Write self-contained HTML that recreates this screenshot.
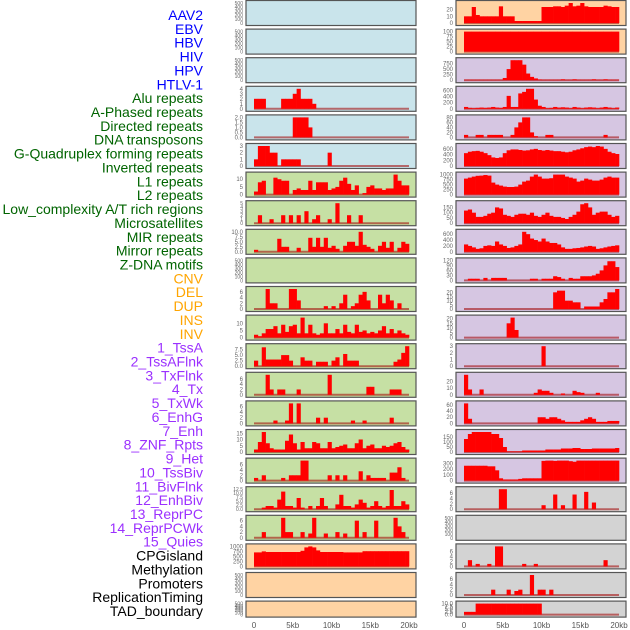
<!DOCTYPE html>
<html><head><meta charset="utf-8"><style>
html,body{margin:0;padding:0;background:#fff;width:630px;height:630px;overflow:hidden}
svg{display:block}
</style></head><body>
<svg id="chart" width="630" height="630" xmlns="http://www.w3.org/2000/svg"></svg>
<script>
const labels = ["AAV2","EBV","HBV","HIV","HPV","HTLV-1","Alu repeats","A-Phased repeats","Directed repeats","DNA transposons","G-Quadruplex forming repeats","Inverted repeats","L1 repeats","L2 repeats","Low_complexity A/T rich regions","Microsatellites","MIR repeats","Mirror repeats","Z-DNA motifs","CNV","DEL","DUP","INS","INV","1_TssA","2_TssAFlnk","3_TxFlnk","4_Tx","5_TxWk","6_EnhG","7_Enh","8_ZNF_Rpts","9_Het","10_TssBiv","11_BivFlnk","12_EnhBiv","13_ReprPC","14_ReprPCWk","15_Quies","CPGisland","Methylation","Promoters","ReplicationTiming","TAD_boundary"];
const labelColors = ["#0000ff","#0000ff","#0000ff","#0000ff","#0000ff","#0000ff","#006400","#006400","#006400","#006400","#006400","#006400","#006400","#006400","#006400","#006400","#006400","#006400","#006400","#ffa500","#ffa500","#ffa500","#ffa500","#ffa500","#9b30ff","#9b30ff","#9b30ff","#9b30ff","#9b30ff","#9b30ff","#9b30ff","#9b30ff","#9b30ff","#9b30ff","#9b30ff","#9b30ff","#9b30ff","#9b30ff","#9b30ff","#000","#000","#000","#000","#000"];
const xTicks = [0,5,10,15,20];
const xTickLabels = ["0","5kb","10kb","15kb","20kb"];
const t500 = ["0","100","200","300","400","500"];
const leftBg = ["blue","blue","blue","blue","blue","blue","green","green","green","green","green","green","green","green","green","green","green","green","green","orange","orange","orange"];
const rightBg = ["orange","orange","purple","purple","purple","purple","purple","purple","purple","purple","purple","purple","purple","purple","purple","purple","purple","gray","gray","gray","gray","gray"];
// left column series (bins spanning 0-20kb)
const L0=[0],L1=[0],L2=[0];
const L3=[2,2,2,0,0,0,0,2,2,2,3,4,2,2,2,1,0,0,0,0,0,0,0,0,0,0,0,0,0,0,0,0,0,0,0,0,0,0,0,0];
const L4=[0,0,0,0,0,0,0,0,0,0,2,2,2,2,1,0,0,0,0,0,0,0,0,0,0,0,0,0,0,0,0,0,0,0,0,0,0,0,0,0];
const L5=[1,3,3,3,2,2,0,1,1,1,1,1,0,0,0,0,0,0,0,2,0,0,0,0,0,0,0,0,0,0,0,0,0,0,0,0,0,0,0,0];
const L6=[2,8,9,0,0,11,10,9,9,0,3,4,3,3,9,3,8,8,8,3,4,5,9,11,7,3,6,0,1,5,6,4,4,3,4,4,13,9,6,6];
const L7=[0,2,0,0,1,0,0,2,0,2,0,2,0,3,0,1,2,0,0,1,0,5,0,0,2,0,0,2,0,0,0,0,0,0,0,0,0,0,0,0];
const L8=[1,0,0,0,0,0,6.5,2.5,2.5,0,0,2,0,0,7,2.5,7,2.5,7,2,3,1.5,0,3,5,5,3,10,3.5,2.5,1.5,0,3,5,2,5,0,2,5,4];
const L9=[0];
const L10=[0,0,0,7,2,2,0,0,0,7,7,3,0,0,0,0,0,0,1,0,1,0,2,5,0,1,2,5,6,3,0,0,5,2,5,3,0,2,0,0];
const L11=[2,1,3,6,6,8,3,9,4,8,9,3,14,3,9,3,2,3,10,3,3,6,3,9,4,3,9,4,5,3,4,3,5,8,3,6,3,5,3,2];
const L12=[2.5,0,8.5,3,3,3,3,5,5,2.5,0,0,4,2.5,2.5,0,2,2,2,0,2.5,4,0,5.5,2.5,2.5,2.5,0,0,0,0,0,0,0,0,0,2,3,6,9];
const L13=[0,0,0,7.5,2,0,2,2,0,0,0,2,0,0,0,0,0,0,0,7.5,0,0,0,0,0,0,0,0,0,3,3,0,0,0,0,2,2,2,0,0];
const L14=[0,0,0,0,0,1,0,0,1,7,0,7,0,0,0,0,2,0,2,0,0,0,0,0,0,1,0,0,1,0,0,0,0,0,0,2,0,0,0,0];
const L15=[2,8,16,7,3,2,2,2,9,14,7,2,8,3,3,8,7,3,3,8,3,4,5,6,3,3,7,10,3,5,6,3,3,5,4,5,7,8,4,2];
const L16=[1,0,2,0,0,0,0,1,0,2,2,2,7.5,7.5,0,0,0,0,0,2,0,2,0,2,0,0,0,3.5,0,2,1,1,1,1,0,3,3,5,1,0];
const L17=[0,0,1,2,2,1,6,11,2,2,1,7,1,0,2,0,2,7,2,0,0,3,9,2,2,1,3,6,4,1,2,5,2,1,2,12,2,2,5,3];
const L18=[0,0,2,0,0,0,0,7,2,2,0,0,2,0,1.5,7,0,0,1.5,0,0,2,0,1.5,0,0,6,0,2,0,0,6,0,0,0,0,7,4,2,0];
const L19=[700,700,750,720,720,720,720,720,720,720,720,720,780,950,1000,950,800,720,720,720,720,720,720,700,700,700,700,700,760,760,760,760,760,760,760,760,760,760,760,760];
const L20=[0],L21=[0];
// right column series
const R0=[10,10,24,12,10,10,10,10,10,25,10,10,10,3,3,3,3,3,3,3,24,24,24,25,25,24,26,30,25,26,30,25,24,24,24,24,26,25,24,24];
const R1=[100,100,100,100,100,100,100,100,100,100,100,100,100,100,100,100,100,100,100,100];
const R2=[20,20,20,20,20,20,20,20,20,20,100,500,900,900,900,700,300,150,80,30,20,20,20,20,20,40,20,20,40,20,20,20,20,40,20,20,40,20,20,20];
const R3=[60,30,20,30,40,30,40,60,40,30,60,420,60,60,500,550,650,650,300,100,60,20,30,60,40,50,40,20,60,40,20,40,50,40,20,40,60,40,20,40];
const R4=[10,0,0,10,10,0,10,10,10,10,0,0,10,40,60,80,80,20,5,0,0,10,10,0,0,0,0,0,0,0,0,0,0,0,0,0,10,0,0,0];
const R5=[450,500,520,530,500,450,380,300,280,300,450,550,580,580,560,540,550,580,600,560,540,560,540,520,520,500,480,500,550,580,620,660,680,660,700,680,600,500,450,420];
const R6=[800,850,900,940,950,980,950,600,500,450,400,380,380,400,500,650,700,900,1000,900,800,800,820,1000,1000,1000,900,850,800,650,700,800,750,700,700,750,850,900,850,850];
const R7=[120,130,100,60,60,70,90,100,150,140,80,70,60,80,90,90,80,100,70,60,80,100,70,60,60,50,40,60,80,110,180,190,150,80,100,110,110,80,60,70];
const R8=[250,200,150,100,120,200,220,200,350,250,200,130,150,200,250,680,600,450,400,350,450,350,300,300,250,150,100,100,120,130,150,180,200,180,100,120,150,180,200,220];
const R9=[0,10,10,10,0,15,0,15,15,15,15,0,0,0,0,0,0,10,10,0,10,10,10,25,20,10,0,15,10,10,25,25,25,30,40,60,90,115,115,80];
const R10=[0,0,0,0,0,0,0,0,0,0,0,0,0,0,0,0,0,0,0,0,0,0,0,20,22,22,10,10,8,8,0,3,3,3,3,8,12,20,20,24];
const R11=[0,0,0,0,0,0,0,0,0,0,0,15,21,8,0,0,0,0,0,0,0,0,0,0,0,0,0,0,0,0,0,0,0,0,0,0,0,0,0,0];
const R12=[0,0,0,0,0,0,0,0,0,0,0,0,0,0,0,0,0,0,0,0,3,0,0,0,0,0,0,0,0,0,0,0,0,0,0,0,0,0,0,0];
const R13=[30,8,0,0,8,0,0,0,0,0,0,0,0,0,0,0,0,0,3,8,6,6,3,0,0,2,0,0,6,4,3,0,0,0,3,0,0,0,0,0];
const R14=[65,15,0,0,0,0,0,0,0,0,0,0,0,0,0,0,0,0,0,20,20,15,20,20,15,10,5,5,5,5,10,15,20,15,5,5,5,8,8,8];
const R15=[130,180,200,200,200,200,200,180,180,140,50,5,5,5,5,15,15,15,15,15,15,25,25,25,25,35,35,35,40,40,30,30,30,35,35,35,35,35,35,40];
const R16=[260,260,260,260,260,260,250,250,180,40,20,20,20,20,30,40,40,40,40,40,345,350,350,345,350,350,350,340,330,350,350,350,350,350,350,350,350,350,350,350];
const R17=[0,0,0,0,0,0,0,0,0,7.5,7.5,0,0,0,0,0,0,0,0,0,1.5,0,0,5.5,0,1.5,0,0,5.5,0,0,6.5,0,2.5,0,0,0,0,0,0];
const R18=[0];
const R19=[0,2.5,0,1,0,0,1,0,8,8,0,0,0,0,0,1,0,0,1,0,0,0,0,0,0,0,0,0,0,0,0,0,0,0,0,0,2.5,0,0,0];
const R20=[0,0,0,0,0,0,0,2,0,0,0,2,0,1.5,2,0,0,7.5,0,2,2,0,2,0,0,0,0,0,0,0,0,0,0,0,0,0,0,0,0,0];
const R21=[2.5,2.5,2.5,10,10,10,10,10,10,10,10,10,10,10,10,10,10,10,10,10,0,0,0,0,0,0,0,0,0,0,0,0,0,0,0,0,0,0,0,0];
const leftSeries=[L0,L1,L2,L3,L4,L5,L6,L7,L8,L9,L10,L11,L12,L13,L14,L15,L16,L17,L18,L19,L20,L21];
const rightSeries=[R0,R1,R2,R3,R4,R5,R6,R7,R8,R9,R10,R11,R12,R13,R14,R15,R16,R17,R18,R19,R20,R21];
const leftTicks=[t500,t500,t500,["0","1","2","3","4"],["0.0","0.5","1.0","1.5","2.0"],["0","1","2","3"],["0","5","10"],["0","1","2","3","4","5"],["0.0","2.5","5.0","7.5","10.0"],t500,["0","2","4","6"],["0","5","10"],["0.0","2.5","5.0","7.5"],["0","2","4","6"],["0","2","4","6"],["0","5","10","15"],["0","2","4","6"],["0.0","2.5","5.0","7.5","10.0","12.5"],["0","2","4","6"],["0","250","500","750","1000"],t500,t500];
const rightTicks=[["0","10","20"],["0","25","50","75","100"],["0","250","500","750"],["0","200","400","600"],["0","20","40","60","80"],["0","200","400","600"],["0","250","500","750","1000"],["0","50","100","150"],["0","200","400","600"],["0","30","60","90","120"],["0","5","10","15","20"],["0","5","10","15","20"],["0","1","2","3"],["0","10","20"],["0","20","40","60"],["0","50","100","150"],["0","100","200","300"],["0","2","4","6"],t500,["0","2","4","6"],["0","2","4","6"],["0.0","2.5","5.0","7.5","10.0"]];

const bgColors={blue:"#c9e4eb",green:"#c6e0a4",orange:"#ffd3a3",purple:"#d6c6e2",gray:"#d3d3d3"};
const NS="http://www.w3.org/2000/svg";
const svg=document.getElementById("chart");
function mk(tag,attrs,parent){const e=document.createElementNS(NS,tag);for(const k in attrs)e.setAttribute(k,attrs[k]);(parent||svg).appendChild(e);return e;}
function rowTop(i){return 0.5+28.6*i;}
function rowH(i){return i===21?16:25;}

// labels
labels.forEach((t,i)=>{
  const e=mk("text",{x:203,y:15+i*(596/43)+5,"text-anchor":"end","font-family":"Liberation Sans, sans-serif","font-size":"14",fill:labelColors[i]});
  e.textContent=t;
  
  
});

function drawPanel(col,i,series,ticks,bg){
  const px=col===0?246:456, pw=170, top=rowTop(i), h=rowH(i);
  const g=mk("g",{});
  
  
  const r=mk("rect",{x:px,y:top,width:pw,height:h,fill:bgColors[bg],stroke:"none"},g);
  
  
  const tickMax=parseFloat(ticks[ticks.length-1]);
  const dmax=Math.max(...series);
  const ymax=Math.max(tickMax,dmax);
  const y0=top+h-2.5, y1=top+2.5;
  const yS=v=>y0-(v/ymax)*(y0-y1);
  const xS=kb=>px+8+kb*7.75;
  if(dmax>0){
    const bl=mk("line",{x1:xS(0),x2:xS(20),y1:y0,y2:y0,stroke:"rgba(160,0,0,0.55)","stroke-width":"2"},g);
    
    
    const bw=20/series.length;
    series.forEach((v,k)=>{
      if(v<=0)return;
      const b=mk("rect",{x:xS(k*bw),y:yS(v),width:xS((k+1)*bw)-xS(k*bw)+0.3,height:y0-yS(v),fill:"#ff0000"},g);
      
      
    });
  }
  const fr=mk("rect",{x:px,y:top,width:pw,height:h,fill:"none",stroke:"#555","stroke-width":"1.2"},g);
  
  
  const fs=ticks.length>5?5:6;
  ticks.forEach(t=>{
    const v=parseFloat(t);
    const tx=mk("text",{x:px-3,y:yS(v)+2,"text-anchor":"end","font-family":"Liberation Sans, sans-serif","font-size":fs,fill:"#666"},g);
    tx.textContent=t;
    
    
  });
}
for(let i=0;i<22;i++){
  drawPanel(0,i,leftSeries[i],leftTicks[i],leftBg[i]);
  drawPanel(1,i,rightSeries[i],rightTicks[i],rightBg[i]);
}
[254,464].forEach(base=>{
  xTicks.forEach((kb,j)=>{
    const t=mk("text",{x:base+kb*7.75,y:628,"text-anchor":"middle","font-family":"Liberation Sans, sans-serif","font-size":"8",fill:"#555"});
    t.textContent=xTickLabels[j];
    
    
  });
});
</script>
</body></html>
